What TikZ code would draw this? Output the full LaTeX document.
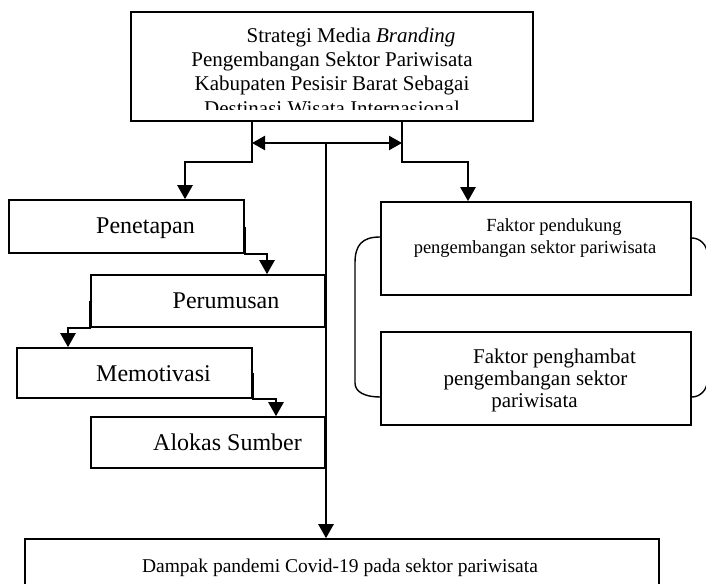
\documentclass[tikz,border=0pt]{standalone}
\usepackage{fontspec}
\setmainfont{Liberation Serif}
\usetikzlibrary{arrows.meta}
\begin{document}
\begin{tikzpicture}[x=1pt,y=-1pt,
  box/.style={draw, line width=1.6pt, inner sep=0pt},
  txt/.style={inner sep=0pt, anchor=base},
  conn/.style={line width=2.4pt},
  arr/.style={conn, -{Triangle[length=14pt,width=15pt]}},
  dbl/.style={conn, {Triangle[length=13pt,width=14pt]}-{Triangle[length=13pt,width=14pt]}},
  brk/.style={line width=1.4pt}]
\useasboundingbox (0,0) rectangle (706,583);
\clip (0,0) rectangle (706,583);

% ---- boxes ----
\node[box, line width=2pt, minimum width=402pt, minimum height=109pt] (top) at (332,66.5) {};
\node[box, minimum width=235pt, minimum height=53pt] (pen) at (126.5,226.5) {};
\node[box, minimum width=234pt, minimum height=52pt] (per) at (208,301) {};
\node[box, minimum width=235pt, minimum height=50pt] (mot) at (134.5,373) {};
\node[box, minimum width=234pt, minimum height=51pt] (alo) at (208,442.5) {};
\node[box, line width=1.7pt, minimum width=310pt, minimum height=93pt] (fp) at (536,248.5) {};
\node[box, line width=1.7pt, minimum width=310pt, minimum height=93pt] (fh) at (536,378.5) {};
\node[box, minimum width=634pt, minimum height=62pt] (dmp) at (342,570) {};

% ---- texts ----
\begin{scope}
\clip (131,12) rectangle (533,110);
\fontsize{21pt}{24pt}\selectfont
\node[txt] (t1) at (351,43) {Strategi Media \textit{Branding}};
\node[txt] (t2) at (332,67) {Pengembangan Sektor Pariwisata};
\node[txt] (t3) at (332,91) {Kabupaten Pesisir Barat Sebagai};
\node[txt] (t4) at (332,115) {Destinasi Wisata Internasional};
\end{scope}

\node[txt, font=\fontsize{24pt}{28pt}\selectfont] (pentx) at (145.5,233) {Penetapan};
\node[txt, font=\fontsize{24pt}{28pt}\selectfont] (pertx) at (226,308) {Perumusan};
\node[txt, font=\fontsize{24pt}{28pt}\selectfont] (mottx) at (153.5,381) {Memotivasi};
\node[txt, font=\fontsize{24pt}{28pt}\selectfont] (alotx) at (227.5,450) {Alokas Sumber};

\node[txt, font=\fontsize{18.5pt}{22pt}\selectfont] (fp1) at (554,231) {Faktor pendukung};
\node[txt, font=\fontsize{18.5pt}{22pt}\selectfont] (fp2) at (535,253) {pengembangan sektor pariwisata};

\node[txt, font=\fontsize{21pt}{24pt}\selectfont] (fh1) at (554.5,363) {Faktor penghambat};
\node[txt, font=\fontsize{21pt}{24pt}\selectfont] (fh2) at (535.5,385) {pengembangan sektor};
\node[txt, font=\fontsize{21pt}{24pt}\selectfont] (fh3) at (534.5,407) {pariwisata};

\node[txt, font=\fontsize{19.5pt}{24pt}\selectfont] (dmptx) at (340,572) {Dampak pandemi Covid-19 pada sektor pariwisata};

% ---- helper coordinates ----
\coordinate (jl) at (252,162);
\coordinate (jr) at (402,162);
\coordinate (ml) at (252,143);
\coordinate (mr) at (402,143);
\coordinate (mc) at (326,143);
\coordinate (pl) at (185,0);
\coordinate (fr) at (468,0);
\coordinate (c1) at (267,0);
\coordinate (c2) at (68,0);
\coordinate (c3) at (276,0);

% ---- connectors ----
\draw[arr] (top.south -| jl) -- (jl) -| (pl |- pen.north);
\draw[arr] (top.south -| jr) -- (jr) -| (fr |- fp.north);
\draw[dbl] (ml) -- (mr);
\draw[arr] (mc) -- (mc |- dmp.north);

\draw[arr] (pen.east) |- (pen.south -| c1) -- (c1 |- per.north);
\draw[arr] (per.west) |- (per.south -| c2) -- (c2 |- mot.north);
\draw[arr] (mot.east) |- (mot.south -| c3) -- (c3 |- alo.north);

% ---- brackets between factor boxes ----
\draw[brk] (fp.west |- 0,237) .. controls (362,237) and (355,245) .. (355,263)
  -- (355,383) .. controls (355,392) and (365,397) .. (fh.west |- 0,397);
\draw[brk] (fp.east |- 0,238) .. controls (700,238) and (707,245) .. (707,253)
  -- (707,382) .. controls (707,390) and (700,397) .. (fh.east |- 0,397);
\end{tikzpicture}
\end{document}
